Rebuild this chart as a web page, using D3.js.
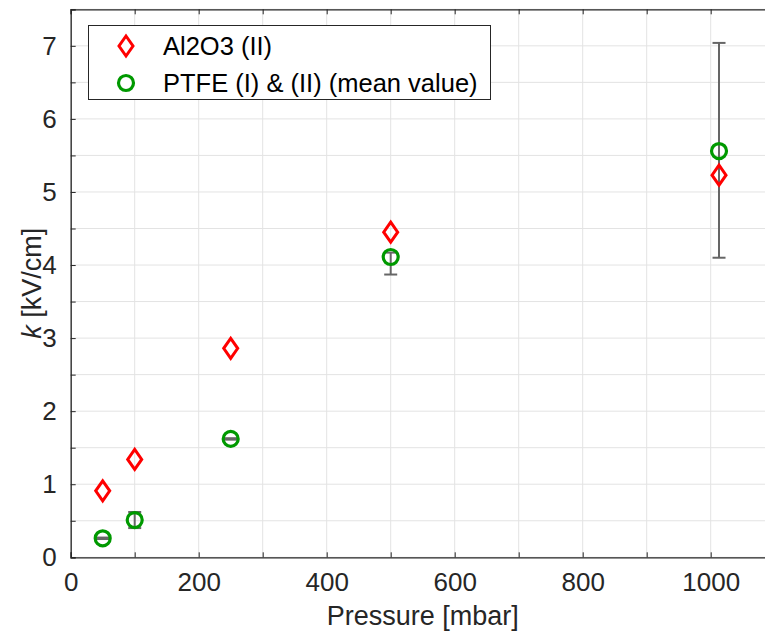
<!DOCTYPE html>
<html><head><meta charset="utf-8">
<script src="https://cdn.jsdelivr.net/npm/d3@7"></script>
<style>body{margin:0;background:#fff;} svg{display:block;font-family:"Liberation Sans",Arial,sans-serif;}</style>
</head><body>
<svg id="c" width="765" height="637"></svg>
<script>
const pressure = [50, 100, 250, 500, 1013];
const al2o3 = [0.91, 1.34, 2.86, 4.45, 5.23];
const ptfe = [0.26, 0.51, 1.62, 4.11, 5.56];
const ptfeErrLow = [0.01, 0.11, 0.01, 0.24, 1.46];
const ptfeErrHigh = [0.01, 0.11, 0.01, 0.06, 1.48];
const xTicks = [0, 200, 400, 600, 800, 1000];
const yTicks = [0, 1, 2, 3, 4, 5, 6, 7];
const legendLabels = ["Al2O3 (II)", "PTFE (I) & (II) (mean value)"];

const svg = d3.select("#c");
const L = 70.7, T = 9.3, B = 557.3;
const x = d3.scaleLinear().domain([0, 1100]).range([L, L + 1100 * 0.64]);
const y = d3.scaleLinear().domain([0, 7.5]).range([B, T]);
const axisCol = "#262626";

// grid
const gx = d3.range(0, 1101, 100), gy = d3.range(0, 7.51, 0.5);
svg.append("g").selectAll("line").data(gx).join("line")
  .attr("x1", d => x(d)).attr("x2", d => x(d)).attr("y1", T).attr("y2", B)
  .attr("stroke", "#e3e3e3").attr("stroke-width", 1);
svg.append("g").selectAll("line").data(gy).join("line")
  .attr("x1", L).attr("x2", 765).attr("y1", d => y(d)).attr("y2", d => y(d))
  .attr("stroke", "#e3e3e3").attr("stroke-width", 1);

// axes
const xa = svg.append("g").attr("transform", `translate(0,${B})`)
  .call(d3.axisBottom(x).tickValues(gx).tickSize(-5).tickPadding(13)
    .tickFormat(d => xTicks.includes(d) ? d : ""));
const xt = svg.append("g").attr("transform", `translate(0,${T})`)
  .call(d3.axisTop(x).tickValues(gx).tickSize(-5).tickFormat(""));
const ya = svg.append("g").attr("transform", `translate(${L},0)`)
  .call(d3.axisLeft(y).tickValues(gy).tickSize(-5).tickPadding(14)
    .tickFormat(d => yTicks.includes(d) ? d : ""));
[xa, xt, ya].forEach(g => {
  g.select(".domain").attr("stroke", axisCol).attr("stroke-width", 1.3);
  g.selectAll(".tick line").attr("stroke", axisCol);
  g.selectAll(".tick text").attr("fill", axisCol).attr("font-size", 26)
    .attr("font-family", "Liberation Sans, Arial, sans-serif");
});
xa.selectAll(".tick text").attr("dy", "0.8em");

// error bars
const eb = svg.append("g").attr("stroke", "#666").attr("stroke-width", 2);
pressure.forEach((p, i) => {
  const lo = y(ptfe[i] - ptfeErrLow[i]), hi = y(ptfe[i] + ptfeErrHigh[i]);
  eb.append("line").attr("x1", x(p)).attr("x2", x(p)).attr("y1", lo).attr("y2", hi);
  eb.append("line").attr("x1", x(p) - 6.5).attr("x2", x(p) + 6.5).attr("y1", lo).attr("y2", lo);
  eb.append("line").attr("x1", x(p) - 6.5).attr("x2", x(p) + 6.5).attr("y1", hi).attr("y2", hi);
});

const diamond = (cx, cy) => `M${cx},${cy - 10}L${cx + 7},${cy}L${cx},${cy + 10}L${cx - 7},${cy}Z`;
svg.append("g").selectAll("circle").data(pressure).join("circle")
  .attr("cx", d => x(d)).attr("cy", (d, i) => y(ptfe[i])).attr("r", 7.5)
  .attr("fill", "none").attr("stroke", "#009900").attr("stroke-width", 3.2);
svg.append("g").selectAll("path").data(pressure).join("path")
  .attr("d", (d, i) => diamond(x(d), y(al2o3[i])))
  .attr("fill", "none").attr("stroke", "#ff0000").attr("stroke-width", 3);

// legend
const lg = svg.append("g");
lg.append("rect").attr("x", 88.5).attr("y", 25.5).attr("width", 402).attr("height", 74)
  .attr("fill", "#fff").attr("stroke", axisCol).attr("stroke-width", 1);
lg.append("path").attr("d", diamond(126, 46)).attr("fill", "none").attr("stroke", "#ff0000").attr("stroke-width", 3);
lg.append("circle").attr("cx", 126).attr("cy", 83).attr("r", 7.5).attr("fill", "none").attr("stroke", "#009900").attr("stroke-width", 3.2);
legendLabels.forEach((t, i) => {
  lg.append("text").attr("x", 163).attr("y", 46 + i * 37).attr("dy", "0.35em")
    .attr("font-size", 25.5).attr("fill", "#000").text(t);
});

// axis labels
svg.append("text").attr("x", x(550)).attr("y", 625).attr("text-anchor", "middle")
  .attr("font-size", 27).attr("fill", axisCol).text("Pressure [mbar]");
const yl = svg.append("text").attr("transform", `translate(41,${(T + B) / 2}) rotate(-90)`)
  .attr("text-anchor", "middle").attr("font-size", 27).attr("fill", axisCol);
yl.append("tspan").attr("font-style", "italic").text("k");
yl.append("tspan").text(" [kV/cm]");
</script>
</body></html>
